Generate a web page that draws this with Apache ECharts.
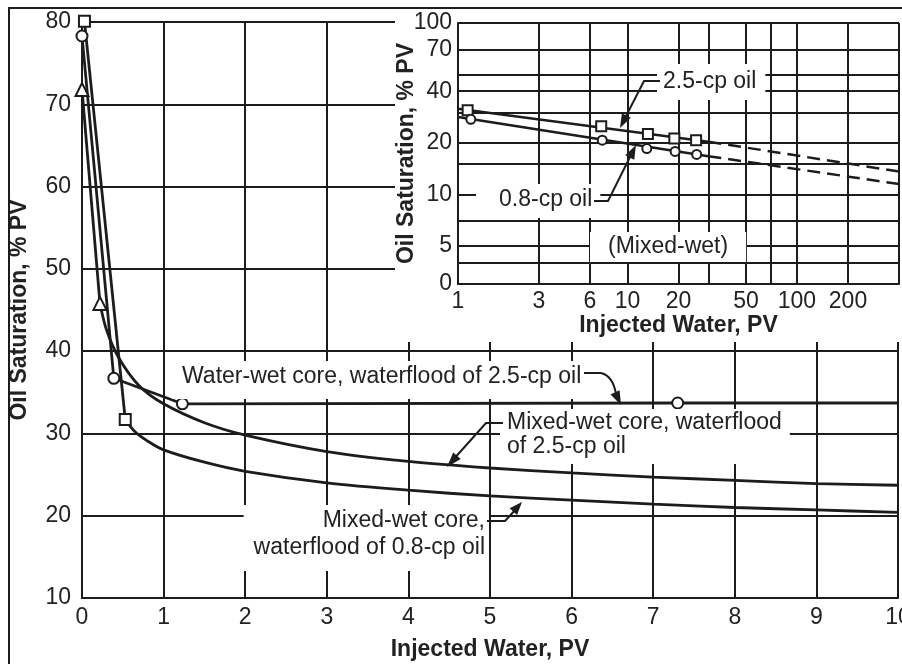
<!DOCTYPE html>
<html><head><meta charset="utf-8">
<script src="https://cdn.jsdelivr.net/npm/echarts@6/dist/echarts.min.js"></script>
<style>html,body{margin:0;padding:0;background:#fff}#c{width:902px;height:664px}</style>
</head><body><div id="c"></div>
<script>
// ---------- Data ----------
// Main chart tick values
const mainXTicks = [0,1,2,3,4,5,6,7,8,9,10];
const mainYTicks = [10,20,30,40,50,60,70,80];

// Water-wet core, waterflood of 2.5-cp oil (circles)
const wwLine    = [[0,78.3],[0.39,36.7],[1.23,33.6],[7.3,33.7],[10,33.7]];
const wwMarkers = [[0,78.3],[0.39,36.7],[1.23,33.6],[7.3,33.7]];

// Mixed-wet core, waterflood of 2.5-cp oil (triangles)
const mw25Steep   = [[0,71.8],[0.22,45.8]];
const mw25Curve   = [[0.22,45.8],[0.3,42.6],[0.45,39.2],[0.7,35.8],[1,33.6],[1.5,31.3],[2,29.8],[3,27.8],[4,26.6],[5,25.8],[6,25.2],[7,24.7],[8,24.3],[9,23.9],[10,23.7]];
const mw25Markers = [[0,71.8],[0.22,45.8]];

// Mixed-wet core, waterflood of 0.8-cp oil (squares)
const mw08Steep   = [[0.03,80.1],[0.53,31.7]];
const mw08Curve   = [[0.53,31.7],[0.65,30.2],[0.8,29.1],[1,28.0],[1.5,26.5],[2,25.4],[3,24.0],[4,23.1],[5,22.4],[6,21.9],[7,21.4],[8,21.0],[9,20.7],[10,20.4]];
const mw08Markers = [[0.03,80.1],[0.53,31.7]];

// Inset (log-log), mixed-wet
const insetXGrid       = [1,3,6,10,20,30,50,70,100,200,400];
const insetXTickLabels = {1:'1',3:'3',6:'6',10:'10',20:'20',50:'50',100:'100',200:'200'};
const insetYGrid       = [3,4,5,7,10,15,20,30,40,50,70,100];
const insetYTickLabels = {3:'0',5:'5',10:'10',20:'20',40:'40',70:'70',100:'100'};

const in25Solid   = [[1,31.6],[30,20.3]];
const in25Dash    = [[30,20.3],[400,13.6]];
const in25Markers = [[1.14,31.0],[7.0,25.0],[13.2,22.5],[18.9,21.2],[25.4,20.7]];

const in08Solid   = [[1,28.3],[30,16.7]];
const in08Dash    = [[30,16.7],[400,11.5]];
const in08Markers = [[1.19,27.4],[7.1,20.7],[13.0,18.5],[19.1,17.8],[25.6,17.1]];

// ---------- Styling ----------
const FF = '"Liberation Sans", Arial, Helvetica, sans-serif';
const FS = 23;
const INK = '#1c1c1c';
const TXT = '#222';
const gridLine = {color: INK, width: 2};

function lineSeries(data, xi, opts) {
  return Object.assign({
    type: 'line', data: data, xAxisIndex: xi, yAxisIndex: xi,
    showSymbol: false, symbol: 'none', silent: true, animation: false,
    lineStyle: {color: INK, width: 2.8}, z: 2
  }, opts || {});
}
function markerSeries(data, xi, symbol, size, z) {
  return {
    type: 'scatter', data: data, xAxisIndex: xi, yAxisIndex: xi,
    symbol: symbol, symbolSize: size, clip: false, silent: true, animation: false,
    itemStyle: {color: '#fff', borderColor: INK, borderWidth: 2, opacity: 1}, z: z
  };
}

// inset grid lines + tick labels drawn through the log axes
const insetMarkData = [];
insetXGrid.forEach(v => {
  const lab = insetXTickLabels[v];
  insetMarkData.push({xAxis: v, name: lab || '', label: {show: !!lab}});
});
insetYGrid.forEach(v => {
  const lab = insetYTickLabels[v];
  insetMarkData.push({yAxis: v, name: lab || '', label: {show: !!lab}});
});

// ---------- Annotation helpers ----------
function textBox(text, x, y, pad, align, lh, z) {
  return {
    type: 'text', x: x, y: y, z: z || 6, silent: true,
    style: {
      text: text, font: FS + 'px ' + FF, fill: TXT,
      backgroundColor: '#fff', padding: pad,
      align: align, textAlign: align, verticalAlign: 'top', textVerticalAlign: 'top',
      lineHeight: lh
    }
  };
}
function leader(points) {
  return {type: 'polyline', z: 9, silent: true, shape: {points: points},
          style: {stroke: INK, lineWidth: 2, fill: null}};
}
function arrowHead(tip, from, len, halfW) {
  const dx = tip[0] - from[0], dy = tip[1] - from[1];
  const n = Math.hypot(dx, dy), ux = dx / n, uy = dy / n;
  const bx = tip[0] - ux * len, by = tip[1] - uy * len;
  return {type: 'polygon', z: 9, silent: true,
          shape: {points: [tip, [bx - uy * halfW, by + ux * halfW], [bx + uy * halfW, by - ux * halfW]]},
          style: {fill: INK}};
}

const nameStyle = {color: TXT, fontSize: FS, fontWeight: 'bold', fontFamily: FF};

const option = {
  backgroundColor: '#fff',
  animation: false,
  grid: [
    {left: 82, top: 22, right: 4, bottom: 66, containLabel: false, outerBoundsMode: 'none'},
    {left: 458, top: 23, right: 3, bottom: 380, containLabel: false, outerBoundsMode: 'none'}
  ],
  xAxis: [
    {
      gridIndex: 0, type: 'value',
      min: mainXTicks[0], max: mainXTicks[mainXTicks.length - 1], interval: mainXTicks[1] - mainXTicks[0],
      axisLine: {show: true, onZero: false, lineStyle: gridLine},
      axisTick: {show: false},
      axisLabel: {color: TXT, fontSize: FS, fontFamily: FF, margin: 8, hideOverlap: false},
      splitLine: {show: true, lineStyle: gridLine},
      name: 'Injected Water, PV', nameLocation: 'middle', nameGap: 40, nameMoveOverlap: false,
      nameTextStyle: nameStyle
    },
    {
      gridIndex: 1, type: 'log', logBase: 10, min: 1, max: 400, z: 5,
      axisLine: {show: true, onZero: false, lineStyle: gridLine},
      axisTick: {show: false}, axisLabel: {show: false}, splitLine: {show: false}, minorSplitLine: {show: false},
      name: 'Injected Water, PV', nameLocation: 'middle', nameGap: 30, nameMoveOverlap: false,
      nameTextStyle: nameStyle
    }
  ],
  yAxis: [
    {
      gridIndex: 0, type: 'value',
      min: mainYTicks[0], max: mainYTicks[mainYTicks.length - 1], interval: mainYTicks[1] - mainYTicks[0],
      axisLine: {show: true, onZero: false, lineStyle: gridLine},
      axisTick: {show: false},
      axisLabel: {color: TXT, fontSize: FS, fontFamily: FF, margin: 11, hideOverlap: false},
      splitLine: {show: true, lineStyle: gridLine},
      name: 'Oil Saturation, % PV', nameLocation: 'middle', nameGap: 51, nameMoveOverlap: false,
      nameTextStyle: nameStyle
    },
    {
      gridIndex: 1, type: 'log', logBase: 10, min: 3, max: 100, z: 5,
      axisLine: {show: true, onZero: false, lineStyle: gridLine},
      axisTick: {show: false}, axisLabel: {show: false}, splitLine: {show: false}, minorSplitLine: {show: false},
      name: 'Oil Saturation, % PV', nameLocation: 'middle', nameGap: 40, nameMoveOverlap: false,
      nameTextStyle: nameStyle
    }
  ],
  series: [
    // main chart
    lineSeries(wwLine, 0),
    lineSeries(mw25Steep, 0),
    lineSeries(mw25Curve, 0, {smooth: 0.3}),
    lineSeries(mw08Steep, 0),
    lineSeries(mw08Curve, 0, {smooth: 0.3}),
    markerSeries(wwMarkers, 0, 'circle', 11, 3),
    markerSeries(mw25Markers, 0, 'triangle', 13, 3),
    markerSeries(mw08Markers, 0, 'rect', 11, 3),
    // inset
    lineSeries(in25Solid, 1, {
      z: 8, lineStyle: {color: INK, width: 2.5},
      markLine: {
        silent: true, animation: false, z: 5, symbol: ['none', 'none'], precision: 4,
        lineStyle: {color: INK, width: 2, type: 'solid'},
        label: {show: true, position: 'start', distance: 6, formatter: '{b}',
                color: TXT, fontSize: FS, fontFamily: FF},
        emphasis: {disabled: true},
        data: insetMarkData
      }
    }),
    lineSeries(in25Dash, 1, {z: 8, lineStyle: {color: INK, width: 2.5, type: [13, 7]}}),
    lineSeries(in08Solid, 1, {z: 8, lineStyle: {color: INK, width: 2.5}}),
    lineSeries(in08Dash, 1, {z: 8, lineStyle: {color: INK, width: 2.5, type: [13, 7]}}),
    markerSeries(in25Markers, 1, 'rect', 10, 9),
    markerSeries(in08Markers, 1, 'circle', 9, 9)
  ],
  graphic: {
    elements: [
      // outer frame
      {type: 'rect', z: 10, silent: true, shape: {x: 9, y: 8, width: 1000, height: 1000},
       style: {fill: null, stroke: INK, lineWidth: 2}},
      // white panel behind inset
      {type: 'rect', z: 3, silent: true, shape: {x: 395, y: 10, width: 520, height: 332},
       style: {fill: '#fff', stroke: null}},
      // main annotations
      textBox('Water-wet core, waterflood of 2.5-cp oil', 172, 361, [3, 20, 9, 10], 'left', 26, 4),
      textBox('Mixed-wet core, waterflood\nof 2.5-cp oil', 500, 409, [2, 8, 5, 7], 'left', 24, 4),
      textBox('Mixed-wet core,\nwaterflood of 0.8-cp oil', 489, 505, [2, 4, 10, 10], 'right', 27, 4),
      // inset annotations
      textBox('2.5-cp oil', 657, 64, [6, 9, 6, 6], 'left', 24, 6),
      textBox('0.8-cp oil', 476, 184, [4, 8, 6, 23], 'left', 24, 6),
      textBox('(Mixed-wet)', 590, 232, [3, 18, 3, 18], 'left', 24, 6),
      // leaders and arrowheads
      leader([[584, 373], [601, 373]]),
      {type: 'bezierCurve', z: 9, silent: true,
       shape: {x1: 601, y1: 373, cpx1: 613, cpy1: 376, x2: 616, y2: 394},
       style: {stroke: INK, lineWidth: 2, fill: null}},
      arrowHead([621, 405], [613, 388], 14, 5),
      leader([[503, 423], [486, 423], [452, 461]]),
      arrowHead([447, 467], [486, 423], 15, 5),
      leader([[487, 521], [505, 521], [518, 507]]),
      arrowHead([522, 502], [505, 521], 13, 5),
      leader([[660, 81], [644, 81], [624, 120]]),
      arrowHead([620, 128], [644, 81], 14, 5),
      leader([[594, 201], [608, 201], [632, 153]]),
      arrowHead([636, 145], [608, 201], 14, 5)
    ]
  }
};

const chart = echarts.init(document.getElementById('c'), null, {renderer: 'canvas'});
chart.setOption(option);
</script>
</body></html>
